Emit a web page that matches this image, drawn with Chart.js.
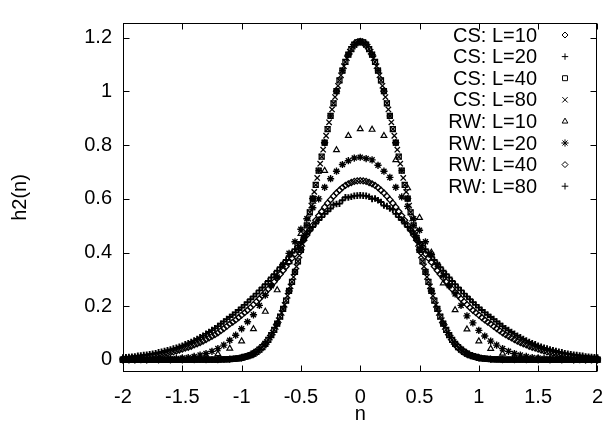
<!DOCTYPE html>
<html>
<head>
<meta charset="utf-8">
<title>h2(n)</title>
<script src="https://cdn.jsdelivr.net/npm/chart.js@4.4.0/dist/chart.umd.min.js"></script>
<style>
  html, body { margin: 0; padding: 0; background: #fff; }
  #wrap { width: 616px; height: 423px; }
</style>
</head>
<body>
<div id="wrap"><canvas id="plot" width="616" height="423"></canvas></div>
<script>
// tick marks / labels
const xTicks = [-2, -1.5, -1, -0.5, 0, 0.5, 1, 1.5, 2];
const xTickLabels = ["-2", "-1.5", "-1", "-0.5", "0", "0.5", "1", "1.5", "2"];
const yTicks = [0, 0.2, 0.4, 0.6, 0.8, 1, 1.2];
const yTickLabels = ["0", "0.2", "0.4", "0.6", "0.8", "1", "1.2"];

// series names, in key order
const seriesLabels = ["CS: L=10", "CS: L=20", "CS: L=40", "CS: L=80",
                      "RW: L=10", "RW: L=20", "RW: L=40", "RW: L=80"];

// sample grids of n (spacing 0.1, 0.05, 0.025, 0.0125)
function grid(step) {
  const n = Math.round(4 / step);
  return Array.from({ length: n + 1 }, (_, i) => +(-2 + i * step).toFixed(5));
}
const nStep100 = grid(0.1);
const nStep050 = grid(0.05);
const nStep025 = grid(0.025);
const nStep0125 = grid(0.0125);

// h2(n) values
const csL10 = [
  0, 0, 0, 0, 0, 0, 0.001, 0.001, 0.001, 0.003, 0.008, 0.023, 0.060, 0.135, 0.257, 0.410, 0.601, 0.809, 1.001, 1.137,
  1.186,
  1.137, 1.001, 0.809, 0.601, 0.410, 0.257, 0.135, 0.060, 0.023, 0.008, 0.003, 0.001, 0.001, 0.001, 0, 0, 0, 0, 0, 0
];
const csL20 = [
  0, 0, 0, 0, 0, 0, 0, 0, 0, 0, 0, 0, 0.001, 0.001, 0.001, 0.001, 0.001, 0.002, 0.003, 0.005,
  0.008, 0.014, 0.023, 0.038, 0.060, 0.092, 0.135, 0.190, 0.257, 0.328, 0.410, 0.501, 0.601, 0.705, 0.809, 0.909,
  1.001, 1.078, 1.137, 1.174,
  1.186,
  1.174, 1.137, 1.078, 1.001, 0.909, 0.809, 0.705, 0.601, 0.501, 0.410, 0.328, 0.257, 0.190, 0.135, 0.092, 0.060,
  0.038, 0.023, 0.014, 0.008, 0.005, 0.003, 0.002, 0.001, 0.001, 0.001, 0.001, 0.001, 0, 0, 0, 0, 0, 0, 0, 0, 0, 0, 0, 0
];
const csL40 = [
  0, 0, 0, 0, 0, 0, 0, 0, 0, 0, 0, 0, 0, 0, 0, 0, 0, 0, 0, 0, 0, 0, 0, 0,
  0.001, 0.001, 0.001, 0.001, 0.001, 0.001, 0.001, 0.001, 0.001, 0.002, 0.002, 0.002, 0.003, 0.004, 0.005, 0.006,
  0.008, 0.011, 0.014, 0.018, 0.023, 0.030, 0.038, 0.048, 0.060, 0.075, 0.092, 0.112, 0.135, 0.161, 0.190, 0.221,
  0.257, 0.291, 0.328, 0.367, 0.410, 0.455, 0.501, 0.550, 0.601, 0.652, 0.705, 0.757, 0.809, 0.860, 0.909, 0.956,
  1.001, 1.041, 1.078, 1.110, 1.137, 1.158, 1.174, 1.183,
  1.186,
  1.183, 1.174, 1.158, 1.137, 1.110, 1.078, 1.041, 1.001, 0.956, 0.909, 0.860, 0.809, 0.757, 0.705, 0.652, 0.601,
  0.550, 0.501, 0.455, 0.410, 0.367, 0.328, 0.291, 0.257, 0.221, 0.190, 0.161, 0.135, 0.112, 0.092, 0.075, 0.060,
  0.048, 0.038, 0.030, 0.023, 0.018, 0.014, 0.011, 0.008, 0.006, 0.005, 0.004, 0.003, 0.002, 0.002, 0.002, 0.001,
  0.001, 0.001, 0.001, 0.001, 0.001, 0.001, 0.001, 0.001,
  0, 0, 0, 0, 0, 0, 0, 0, 0, 0, 0, 0, 0, 0, 0, 0, 0, 0, 0, 0, 0, 0, 0, 0
];
const csL80 = [
  0, 0, 0, 0, 0, 0, 0, 0, 0, 0, 0, 0, 0, 0, 0, 0, 0, 0, 0, 0, 0, 0, 0, 0,
  0, 0, 0, 0, 0, 0, 0, 0, 0, 0, 0, 0, 0, 0, 0, 0, 0, 0, 0, 0, 0, 0, 0, 0,
  0.001, 0.001, 0.001, 0.001, 0.001, 0.001, 0.001, 0.001, 0.001, 0.001, 0.001, 0.001, 0.001, 0.001, 0.001, 0.001, 0.001,
  0.001, 0.002, 0.002, 0.002, 0.002, 0.002,
  0.003, 0.003, 0.003, 0.004, 0.004, 0.005, 0.005, 0.006, 0.007, 0.008,
  0.009, 0.011, 0.012, 0.014, 0.016, 0.018, 0.020, 0.023, 0.026, 0.030,
  0.034, 0.038, 0.043, 0.048, 0.054, 0.060, 0.067, 0.075, 0.083, 0.092,
  0.102, 0.112, 0.123, 0.135, 0.148, 0.161, 0.175, 0.190, 0.205, 0.221,
  0.239, 0.257, 0.274, 0.291, 0.309, 0.328, 0.348, 0.367, 0.389, 0.410,
  0.432, 0.455, 0.478, 0.501, 0.526, 0.550, 0.575, 0.601, 0.626, 0.652,
  0.678, 0.705, 0.731, 0.757, 0.783, 0.809, 0.835, 0.860, 0.885, 0.909,
  0.933, 0.956, 0.979, 1.001, 1.021, 1.041, 1.060, 1.078, 1.094, 1.110,
  1.124, 1.137, 1.148, 1.158, 1.167, 1.174, 1.179, 1.183, 1.185,
  1.187,
  1.185, 1.183, 1.179, 1.174, 1.167, 1.158, 1.148, 1.137, 1.124,
  1.110, 1.094, 1.078, 1.060, 1.041, 1.021, 1.001, 0.979, 0.956, 0.933,
  0.909, 0.885, 0.860, 0.835, 0.809, 0.783, 0.757, 0.731, 0.705, 0.678,
  0.652, 0.626, 0.601, 0.575, 0.550, 0.526, 0.501, 0.478, 0.455, 0.432,
  0.410, 0.389, 0.367, 0.348, 0.328, 0.309, 0.291, 0.274, 0.257, 0.239,
  0.221, 0.205, 0.190, 0.175, 0.161, 0.148, 0.135, 0.123, 0.112, 0.102,
  0.092, 0.083, 0.075, 0.067, 0.060, 0.054, 0.048, 0.043, 0.038, 0.034,
  0.030, 0.026, 0.023, 0.020, 0.018, 0.016, 0.014, 0.012, 0.011, 0.009,
  0.008, 0.007, 0.006, 0.005, 0.005, 0.004, 0.004, 0.003, 0.003, 0.003,
  0.002, 0.002, 0.002, 0.002, 0.002, 0.001,
  0.001, 0.001, 0.001, 0.001, 0.001, 0.001, 0.001, 0.001, 0.001, 0.001, 0.001, 0.001, 0.001, 0.001, 0.001, 0.001, 0.001,
  0, 0, 0, 0, 0, 0, 0, 0, 0, 0, 0, 0, 0, 0, 0, 0, 0, 0, 0, 0, 0, 0, 0, 0,
  0, 0, 0, 0, 0, 0, 0, 0, 0, 0, 0, 0, 0, 0, 0, 0, 0, 0, 0, 0, 0, 0, 0, 0
];
const rwL10 = [
  0, 0, 0.001, 0.002, 0.003, 0.005, 0.008, 0.013, 0.022, 0.043, 0.070, 0.115, 0.180, 0.260, 0.365, 0.470, 0.590, 0.705, 0.782, 0.835,
  0.860,
  0.858, 0.835, 0.745, 0.640, 0.530, 0.400, 0.286, 0.186, 0.114, 0.070, 0.042, 0.024, 0.013, 0.008, 0.005, 0.003, 0.002, 0.001, 0, 0
];
const rwL20 = [
  0, 0, 0.001, 0.001, 0.001, 0.002, 0.002, 0.003, 0.004, 0.005, 0.007, 0.009, 0.013, 0.018, 0.024, 0.032,
  0.042, 0.055, 0.073, 0.092, 0.116, 0.142, 0.168, 0.203, 0.241, 0.276, 0.309, 0.355, 0.397, 0.440,
  0.487, 0.526, 0.567, 0.600, 0.643, 0.675, 0.703, 0.728, 0.742, 0.752,
  0.755,
  0.750, 0.745, 0.725, 0.703, 0.680, 0.643, 0.607, 0.572, 0.526, 0.483, 0.440, 0.392, 0.355, 0.315, 0.276,
  0.246, 0.203, 0.164, 0.138, 0.110, 0.089, 0.070, 0.055, 0.042, 0.032, 0.024, 0.018, 0.013, 0.009,
  0.007, 0.005, 0.004, 0.003, 0.002, 0.002, 0.001, 0.001, 0.001, 0, 0
];
const rwL40 = [
  0.005, 0.006, 0.006, 0.007, 0.008, 0.009, 0.010, 0.011, 0.012, 0.014,
  0.015, 0.017, 0.019, 0.021, 0.023, 0.025, 0.028, 0.030, 0.033, 0.037,
  0.040, 0.044, 0.047, 0.051, 0.056, 0.060, 0.065, 0.070, 0.076, 0.082,
  0.088, 0.094, 0.101, 0.109, 0.117, 0.125, 0.134, 0.141, 0.149, 0.158,
  0.167, 0.176, 0.185, 0.195, 0.206, 0.217, 0.228, 0.240, 0.252, 0.264,
  0.277, 0.291, 0.305, 0.319, 0.333, 0.348, 0.364, 0.379, 0.395, 0.411,
  0.427, 0.446, 0.465, 0.484, 0.502, 0.520, 0.537, 0.553, 0.569, 0.584,
  0.597, 0.610, 0.622, 0.632, 0.642, 0.650, 0.656, 0.661, 0.665, 0.667,
  0.668,
  0.667, 0.665, 0.661, 0.656, 0.650, 0.642, 0.632, 0.622, 0.610, 0.597,
  0.584, 0.569, 0.553, 0.537, 0.520, 0.502, 0.484, 0.465, 0.446, 0.427,
  0.411, 0.395, 0.379, 0.364, 0.348, 0.333, 0.319, 0.305, 0.291, 0.277,
  0.264, 0.252, 0.240, 0.228, 0.217, 0.206, 0.195, 0.185, 0.176, 0.167,
  0.158, 0.149, 0.141, 0.134, 0.125, 0.117, 0.109, 0.101, 0.094, 0.088,
  0.082, 0.076, 0.070, 0.065, 0.060, 0.056, 0.051, 0.047, 0.044, 0.040,
  0.037, 0.033, 0.030, 0.028, 0.025, 0.023, 0.021, 0.019, 0.017, 0.015,
  0.014, 0.012, 0.011, 0.010, 0.009, 0.008, 0.007, 0.006, 0.006, 0.005
];
const rwL80 = [
  0.009, 0.010, 0.011, 0.012, 0.013, 0.015, 0.016, 0.018, 0.019, 0.021,
  0.023, 0.025, 0.028, 0.030, 0.033, 0.036, 0.039, 0.042, 0.045, 0.049,
  0.053, 0.058, 0.062, 0.067, 0.072, 0.078, 0.084, 0.090, 0.097, 0.104,
  0.111, 0.118, 0.126, 0.135, 0.143, 0.152, 0.160, 0.168, 0.177, 0.186,
  0.195, 0.205, 0.215, 0.226, 0.236, 0.247, 0.259, 0.270, 0.282, 0.294,
  0.307, 0.319, 0.332, 0.345, 0.358, 0.372, 0.385, 0.399, 0.412, 0.426,
  0.439, 0.454, 0.468, 0.482, 0.495, 0.508, 0.521, 0.532, 0.544, 0.554,
  0.564, 0.578, 0.581, 0.582, 0.595, 0.606, 0.605, 0.608, 0.611, 0.612,
  0.613,
  0.612, 0.611, 0.608, 0.600, 0.601, 0.595, 0.588, 0.575, 0.573, 0.564,
  0.560, 0.544, 0.532, 0.521, 0.508, 0.495, 0.482, 0.468, 0.454, 0.439,
  0.426, 0.412, 0.399, 0.385, 0.372, 0.358, 0.345, 0.332, 0.319, 0.307,
  0.294, 0.282, 0.270, 0.259, 0.247, 0.236, 0.226, 0.215, 0.205, 0.195,
  0.186, 0.177, 0.168, 0.160, 0.152, 0.143, 0.135, 0.126, 0.118, 0.111,
  0.104, 0.097, 0.090, 0.084, 0.078, 0.072, 0.067, 0.062, 0.058, 0.053,
  0.049, 0.045, 0.042, 0.039, 0.036, 0.033, 0.030, 0.028, 0.025, 0.023,
  0.021, 0.019, 0.018, 0.016, 0.015, 0.013, 0.012, 0.011, 0.010, 0.009
];

const seriesN = [nStep100, nStep050, nStep025, nStep0125, nStep100, nStep050, nStep025, nStep025];
const seriesH = [csL10, csL20, csL40, csL80, rwL10, rwL20, rwL40, rwL80];

// gnuplot-like point types
const markStyles = ["rectRot", "cross", "rect", "crossRot", "triangle", "star", "rectRot", "cross"];
const markSizes = [3, 3.2, 3.5, 3.8, 3.3, 3.6, 3, 3.3];
const markWidths = [1.3, 1.3, 1.3, 1.3, 1.2, 1.4, 1.3, 1.9];

const FONT = '"Liberation Sans", Arial, Helvetica, sans-serif';
Chart.defaults.font.family = FONT;
Chart.defaults.font.size = 20;
Chart.defaults.color = "#000";

const datasets = seriesLabels.map((label, i) => {
  if (seriesN[i].length !== seriesH[i].length) {
    console.error(label, "length mismatch", seriesN[i].length, seriesH[i].length);
  }
  return {
    label,
    data: seriesN[i].map((n, k) => ({ x: n, y: seriesH[i][k] })),
    pointStyle: markStyles[i],
    pointRadius: markSizes[i],
    pointBorderWidth: markWidths[i],
    borderColor: "#000",
    backgroundColor: "rgba(0,0,0,0)",
    showLine: false,
    clip: false,
    order: seriesLabels.length - 1 - i
  };
});

// border box with inward ticks on all four sides
const TICK = 6;
const framePlugin = {
  id: "frame",
  beforeDatasetsDraw(chart) {
    const { ctx, chartArea: a, scales: { x, y } } = chart;
    const L = Math.round(a.left) + 0.5, R = Math.round(a.right) - 0.5;
    const T = Math.round(a.top) + 0.5, B = Math.round(a.bottom) - 0.5;
    ctx.save();
    ctx.strokeStyle = "#000";
    ctx.lineWidth = 1;
    ctx.strokeRect(L, T, R - L, B - T);
    ctx.beginPath();
    xTicks.forEach(v => {
      const px = Math.round(x.getPixelForValue(v)) + 0.5;
      ctx.moveTo(px, B); ctx.lineTo(px, B - TICK);
      ctx.moveTo(px, T); ctx.lineTo(px, T + TICK);
    });
    yTicks.forEach(v => {
      const py = Math.round(y.getPixelForValue(v)) + 0.5;
      ctx.moveTo(L, py); ctx.lineTo(L + TICK, py);
      ctx.moveTo(R, py); ctx.lineTo(R - TICK, py);
    });
    ctx.stroke();
    ctx.restore();
  }
};

// key: text right aligned, point sample to its right
const KEY_TEXT_X = 537, KEY_MARK_X = 565, KEY_TOP = 35, KEY_STEP = 21.6;
const keyPlugin = {
  id: "key",
  afterDraw(chart) {
    const ctx = chart.ctx;
    ctx.save();
    ctx.font = "20px " + FONT;
    ctx.textAlign = "right";
    ctx.textBaseline = "middle";
    chart.data.datasets.forEach((ds, i) => {
      const yy = KEY_TOP + i * KEY_STEP;
      ctx.fillStyle = "#000";
      ctx.fillText(ds.label, KEY_TEXT_X, yy + 1);
      ctx.strokeStyle = "#000";
      ctx.fillStyle = "rgba(0,0,0,0)";
      ctx.lineWidth = 1;
      Chart.helpers.drawPoint(ctx, {
        pointStyle: ds.pointStyle, radius: ds.pointRadius, rotation: 0, borderWidth: 1
      }, KEY_MARK_X, yy);
    });
    ctx.restore();
  }
};

new Chart(document.getElementById("plot"), {
  type: "scatter",
  data: { datasets },
  options: {
    responsive: false,
    animation: false,
    events: [],
    layout: { padding: { top: 7, right: 7, left: 0, bottom: 0 } },
    plugins: { legend: { display: false }, tooltip: { enabled: false } },
    scales: {
      x: {
        type: "linear",
        min: -2,
        max: 2,
        grid: { display: false, drawTicks: false },
        border: { display: false },
        afterBuildTicks: s => { s.ticks = xTicks.map(v => ({ value: v })); },
        afterFit: s => { s.height = 51; },
        ticks: {
          autoSkip: false, maxRotation: 0, padding: 13,
          callback: (v, i) => xTickLabels[i]
        },
        title: { display: true, text: "n", padding: { top: 0, bottom: -3 } }
      },
      y: {
        type: "linear",
        min: -0.045,
        max: 1.255,
        grid: { display: false, drawTicks: false },
        border: { display: false },
        afterBuildTicks: s => { s.ticks = yTicks.map(v => ({ value: v })); },
        afterFit: s => { s.width = 123; },
        ticks: {
          autoSkip: false, padding: 11,
          callback: (v, i) => yTickLabels[i]
        },
        title: { display: true, text: "h2(n)", padding: { top: 8, bottom: 0 } }
      }
    }
  },
  plugins: [framePlugin, keyPlugin]
});
</script>
</body>
</html>
